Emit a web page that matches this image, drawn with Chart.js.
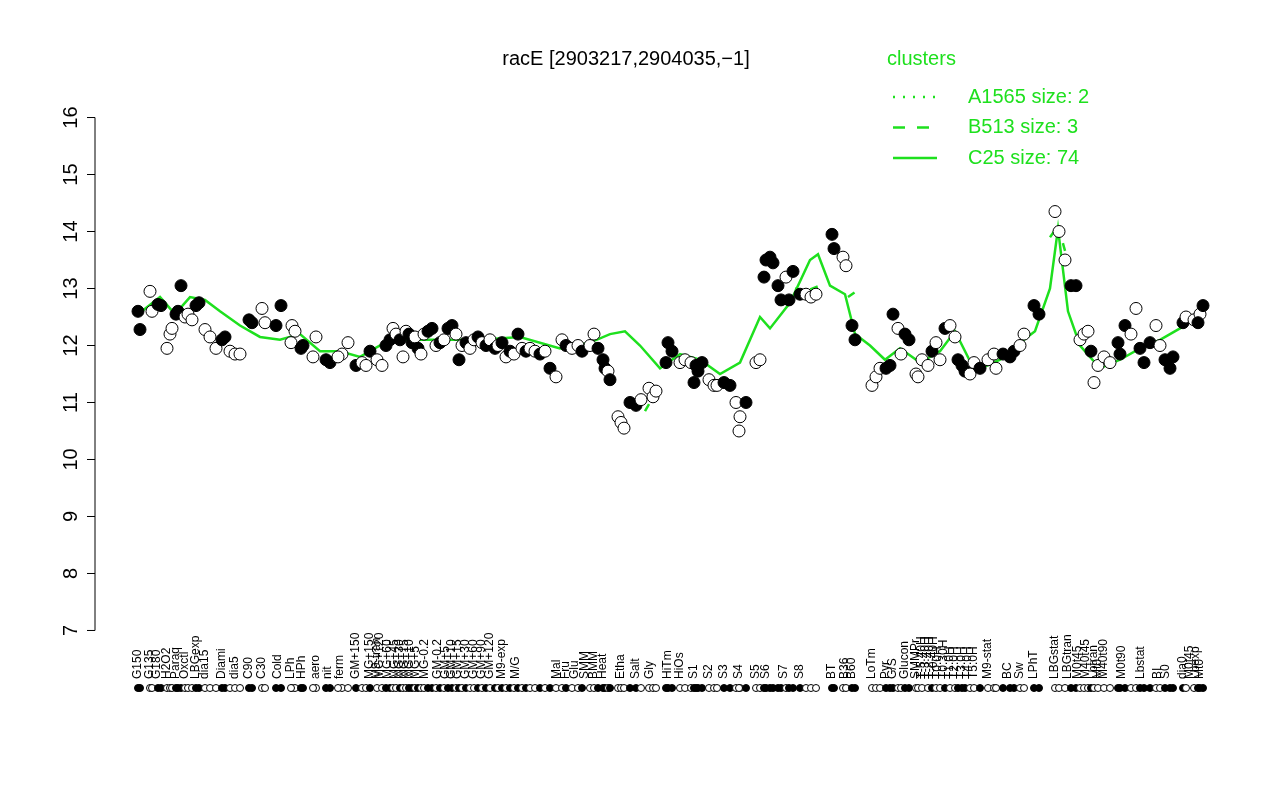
<!DOCTYPE html>
<html><head><meta charset="utf-8">
<script src="https://cdn.jsdelivr.net/npm/chart.js@4"></script>
<style>body{margin:0;background:#fff}#wrap{width:1280px;height:800px}</style>
</head><body><div id="wrap"><canvas id="c" width="1280" height="800"></canvas></div>
<script>
// condition positions (index-ish units), expression and filled flag
var ptX = [138,140,150,152,158,161,167,170,172,176,178,181,185,188,192,196,199,205,210,216,222,225,230,235,240,249,252,262,265,276,281,292,295,291,301,303,316,313,326,330,342,338,348,356,362,366,370,377,382,386,390,393,396,400,403,406,409,412,415,418,421,424,428,432,436,440,444,448,452,456,459,462,466,470,474,478,482,486,490,495,498,502,506,510,514,518,522,526,530,535,540,545,550,556,562,566,572,578,582,590,594,598,603,605,608,610,618,621,624,630,636,641,649,653,656,668,672,666,680,685,691,696,698,694,702,709,714,717,724,730,736,740,739,746,756,760,764,766,770,773,778,781,786,789,793,800,806,811,816,832,834,843,846,852,855,872,876,880,886,890,893,898,901,905,909,916,918,922,928,932,936,940,945,950,955,958,962,965,970,974,980,988,994,996,1003,1010,1014,1020,1024,1034,1039,1055,1059,1065,1071,1076,1080,1084,1088,1091,1094,1098,1104,1110,1118,1120,1125,1131,1136,1140,1144,1150,1156,1160,1165,1170,1173,1183,1186,1194,1200,1203,1198];
var ptY = [12.6,12.28,12.95,12.6,12.72,12.7,11.95,12.2,12.3,12.55,12.6,13.05,12.5,12.55,12.45,12.7,12.75,12.28,12.15,11.95,12.1,12.15,11.9,11.85,11.85,12.45,12.4,12.65,12.4,12.35,12.7,12.35,12.25,12.05,11.95,12.0,12.15,11.8,11.75,11.7,11.85,11.8,12.05,11.65,11.7,11.65,11.9,11.75,11.65,12.0,12.1,12.3,12.2,12.1,11.8,12.25,12.2,12.05,12.15,11.95,11.85,12.2,12.25,12.3,12.0,12.05,12.1,12.3,12.35,12.2,11.75,12.0,12.05,11.95,12.1,12.15,12.05,12.0,12.1,11.95,12.0,12.05,11.8,11.9,11.85,12.2,11.95,11.9,11.95,11.9,11.85,11.9,11.6,11.45,12.1,12.0,11.95,12.0,11.9,12.0,12.2,11.95,11.75,11.6,11.55,11.4,10.75,10.65,10.55,11.0,10.95,11.05,11.25,11.1,11.2,12.05,11.9,11.7,11.7,11.75,11.7,11.65,11.55,11.35,11.7,11.4,11.3,11.3,11.35,11.3,11.0,10.75,10.5,11.0,11.7,11.75,13.2,13.5,13.55,13.45,13.05,12.8,13.2,12.8,13.3,12.9,12.9,12.85,12.9,13.95,13.7,13.55,13.4,12.35,12.1,11.3,11.45,11.6,11.6,11.65,12.55,12.3,11.85,12.2,12.1,11.5,11.45,11.75,11.65,11.9,12.05,11.75,12.3,12.35,12.15,11.75,11.65,11.55,11.5,11.7,11.6,11.75,11.85,11.6,11.85,11.8,11.9,12.0,12.2,12.7,12.55,14.35,14.0,13.5,13.05,13.05,12.1,12.2,12.25,11.9,11.35,11.65,11.8,11.7,12.05,11.85,12.35,12.2,12.65,11.95,11.7,12.05,12.35,12.0,11.75,11.6,11.8,12.4,12.5,12.45,12.55,12.7,12.4];
var ptFilled = [1,1,0,0,1,1,0,0,0,1,1,1,0,0,0,1,1,0,0,0,1,1,0,0,0,1,1,0,0,1,1,0,0,0,1,1,0,0,1,1,0,0,0,1,0,0,1,0,0,1,1,0,0,1,0,0,1,1,0,1,0,0,1,1,0,1,0,1,1,0,1,0,1,0,0,1,0,1,0,1,0,1,0,1,0,1,0,1,0,0,1,0,1,0,0,1,0,0,1,0,0,1,1,1,0,1,0,0,0,1,1,0,0,0,0,1,1,1,0,0,0,1,1,1,1,0,0,0,1,1,0,0,0,1,0,0,1,1,1,1,1,1,0,1,1,1,0,0,0,1,1,0,0,1,1,0,0,0,1,1,1,0,0,1,1,0,0,0,0,1,0,0,1,0,0,1,1,1,0,0,1,0,0,0,1,1,1,0,0,1,1,0,0,0,1,1,0,0,0,1,0,0,0,0,1,1,1,0,0,1,1,1,0,0,1,1,1,1,0,0,0,1,1];

// cluster mean lines
var c25X = [138,160,175,190,205,220,240,260,280,300,320,340,360,380,400,440,480,520,560,590,610,625,640,660,680,700,720,740,760,770,790,810,818,830,845,855,870,885,900,920,940,955,975,1000,1020,1035,1050,1058,1068,1080,1100,1120,1140,1160,1180,1203];
var c25Y = [12.55,12.85,12.55,12.85,12.8,12.6,12.35,12.15,12.1,12.2,11.9,11.9,11.8,12.0,12.1,12.1,12.1,12.15,11.95,12.05,12.2,12.25,12.0,11.6,11.85,11.75,11.5,11.7,12.5,12.3,12.75,13.5,13.6,13.05,12.9,12.2,12.0,11.75,11.95,11.7,11.9,12.25,11.55,11.75,12.05,12.25,13.0,14.05,12.6,12.0,11.6,11.75,11.95,12.1,12.3,12.6];
var b513X = [645,650,658,null,795,805,820,null,848,856,null,1050,1058,1066];
var b513Y = [10.85,11.0,11.2,null,13.0,12.95,13.05,null,12.85,12.95,null,13.9,14.1,13.6];
var a1565X = [620,626,null,1040,1046];
var a1565Y = [10.7,10.6,null,12.6,12.65];

var tickY = [7,8,9,10,11,12,13,14,15,16];
var catLabels = ['G150','G135','G180','H2O2','Paraq','Oxctl','LBGexp','dia15','Diami','dia5','C90','C30','Cold','LPh','HPh','aero','nit','ferm','GM+150','MG+150','M9-tran','MG+120','MG+60','MG+45','MG+30','MG+15','MG+10','MG+5','MG-0.2','GM-0.2','GM+5','GM+10','GM+15','GM+30','GM+60','GM+90','GM+120','M9-exp','M/G','Mal','Fru','Glu','SMM','BMM','Heat','Salt','Etha','Gly','HiTm','HiOs','S1','S2','S3','S4','S5','S6','S7','S8','BT','B36','B60','LoTm','Pyr','G/S','Glucon','SMMPr','T-5.40H','T-3.40H','T-2.40H','T-0.40H','T0.0H','T0.30H','T1.0H','T2.0H','T3.0H','T4.0H','T5.0H','M9-stat','BC','Sw','LPhT','LBGstat','LBGtran','M0t45','M40t45','Lbtran','Mt0','M40t90','M0t90','Lbstat','BI','S0','dia0','M0t45','Lbexp','Mt0'];
var catX = [138,150,157,167,176,185,196,205,222,235,249,262,278,291,302,316,328,340,356,370,377,380,388,395,400,405,410,416,425,438,446,452,458,466,474,482,490,502,516,557,566,575,585,594,603,636,621,650,668,680,694,709,724,739,756,766,784,800,832,845,852,872,886,893,905,916,922,926,930,934,938,944,950,955,962,968,974,988,1008,1020,1034,1055,1068,1078,1086,1094,1098,1104,1122,1141,1158,1166,1183,1190,1196,1200];

var G = '#1ee01e';
var data = [];
for (var i = 0; i < ptX.length; i++) data.push({x: ptX[i], y: ptY[i]});
function toPts(xs, ys) {
    var out = [];
    for (var i = 0; i < xs.length; i++) out.push(xs[i] === null ? {x: NaN, y: null} : {x: xs[i], y: ys[i]});
    return out;
}

var rAxes = {
    id: 'rAxes',
    afterDraw: function (chart) {
        var ctx = chart.ctx, xs = chart.scales.x, ys = chart.scales.y;
        ctx.save();
        ctx.strokeStyle = '#000'; ctx.fillStyle = '#000'; ctx.lineWidth = 1;
        // y axis
        var ax = 95;
        ctx.beginPath();
        ctx.moveTo(ax, ys.getPixelForValue(7)); ctx.lineTo(ax, ys.getPixelForValue(16));
        tickY.forEach(function (v) {
            var p = ys.getPixelForValue(v);
            ctx.moveTo(ax, p); ctx.lineTo(ax - 8, p);
        });
        ctx.stroke();
        ctx.font = '20px "Liberation Sans", Arial, sans-serif';
        ctx.textAlign = 'center'; ctx.textBaseline = 'bottom';
        tickY.forEach(function (v) {
            var p = ys.getPixelForValue(v);
            ctx.save(); ctx.translate(ax - 14, p); ctx.rotate(-Math.PI / 2);
            ctx.fillText(String(v), 0, 0); ctx.restore();
        });
        // category labels, reading upward from just above the rug
        ctx.font = '12px "Liberation Sans", Arial, sans-serif';
        ctx.textAlign = 'left'; ctx.textBaseline = 'middle';
        catLabels.forEach(function (t, i) {
            var p = xs.getPixelForValue(catX[i]);
            ctx.save(); ctx.translate(p, 679); ctx.rotate(-Math.PI / 2);
            ctx.fillText(t, 0, 0); ctx.restore();
        });
        // rug of conditions
        for (var i = 0; i < ptX.length; i++) {
            var p = xs.getPixelForValue(ptX[i]);
            ctx.beginPath(); ctx.arc(p, 688, 3.5, 0, 2 * Math.PI);
            ctx.fillStyle = ptFilled[i] ? '#000' : '#fff';
            ctx.fill(); ctx.stroke();
        }
        // title
        ctx.fillStyle = '#000';
        ctx.font = '20px "Liberation Sans", Arial, sans-serif';
        ctx.textAlign = 'center'; ctx.textBaseline = 'middle';
        ctx.fillText('racE [2903217,2904035,\u22121]', 626, 59);
        // legend
        ctx.fillStyle = G; ctx.strokeStyle = G; ctx.lineWidth = 2.5;
        ctx.textAlign = 'left';
        ctx.fillText('clusters', 887, 59);
        var rows = [['A1565 size: 2', [2, 8]], ['B513 size: 3', [12, 12]], ['C25 size: 74', []]];
        rows.forEach(function (r, i) {
            var y = 97 + i * 30.5;
            ctx.setLineDash(r[1]);
            ctx.beginPath(); ctx.moveTo(893, y); ctx.lineTo(937, y); ctx.stroke();
            ctx.fillText(r[0], 968, y);
        });
        ctx.restore();
    }
};

new Chart(document.getElementById('c'), {
    type: 'scatter',
    data: {
        datasets: [
            {type: 'line', data: toPts(c25X, c25Y), borderColor: G, borderWidth: 2.5, pointRadius: 0, order: 3},
            {type: 'line', data: toPts(b513X, b513Y), borderColor: G, borderWidth: 2.5, borderDash: [8, 8], pointRadius: 0, spanGaps: false, order: 3},
            {type: 'line', data: toPts(a1565X, a1565Y), borderColor: G, borderWidth: 2.5, borderDash: [2, 5], pointRadius: 0, spanGaps: false, order: 3},
            {data: data, pointRadius: 6, borderColor: '#000', borderWidth: 1,
             pointBackgroundColor: ptFilled.map(function (f) { return f ? '#000' : '#fff'; }), order: 1}
        ]
    },
    options: {
        responsive: false, animation: false,
        layout: {padding: {left: 95, right: 35, top: 97, bottom: 149}},
        plugins: {legend: {display: false}, tooltip: {enabled: false}},
        scales: {
            x: {type: 'linear', display: false, min: 95, max: 1245},
            y: {display: false, min: 6.64, max: 16.36}
        }
    },
    plugins: [rAxes]
});
</script>
</body></html>
